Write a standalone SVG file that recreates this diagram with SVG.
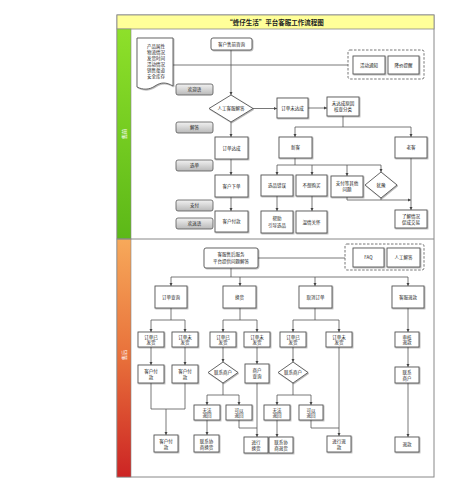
<svg xmlns="http://www.w3.org/2000/svg" width="456" height="500" viewBox="0 0 456 500">
<defs>
<linearGradient id="gGreen" x1="0" y1="0" x2="0" y2="1"><stop offset="0" stop-color="#8ee02a"/><stop offset="1" stop-color="#5cb818"/></linearGradient>
<linearGradient id="gRed" x1="0" y1="0" x2="0" y2="1"><stop offset="0" stop-color="#f7a95a"/><stop offset="0.5" stop-color="#e8703a"/><stop offset="1" stop-color="#cc2424"/></linearGradient>
<linearGradient id="gBtn" x1="0" y1="0" x2="0" y2="1"><stop offset="0" stop-color="#f2f2f2"/><stop offset="1" stop-color="#b8b8b8"/></linearGradient>
<marker id="ar" viewBox="0 0 6 6" refX="6" refY="3" markerWidth="4" markerHeight="4" orient="auto"><path d="M0,0 L6,3 L0,6 Z" fill="#444"/></marker>
<filter id="sh" x="-10%" y="-10%" width="130%" height="140%"><feDropShadow dx="0.8" dy="0.8" stdDeviation="0.4" flood-color="#000" flood-opacity="0.35"/></filter>
</defs>
<style>
.b{fill:#fff;stroke:#555;stroke-width:0.9;filter:url(#sh)}
.r{fill:#fff;stroke:#555;stroke-width:0.9;filter:url(#sh)}
.btn{fill:url(#gBtn);stroke:#555;stroke-width:0.8}
.dg{fill:none;stroke:#666;stroke-width:0.9;stroke-dasharray:2.5,1.5}
.t{font-family:"Noto Sans CJK SC","Noto Sans",sans-serif;font-size:4.5px;fill:#222;text-anchor:middle}
.c{fill:none;stroke:#555;stroke-width:0.8}
.a{marker-end:url(#ar)}
.lane{font-family:"Noto Sans CJK SC",sans-serif;font-size:5px;fill:#fff;text-anchor:middle}
</style>
<rect x="117" y="15" width="317" height="462" fill="#fff" stroke="#888" stroke-width="1"/>
<rect x="117" y="15" width="317" height="14" fill="#ffff99" stroke="#888" stroke-width="0.8"/>
<text x="275" y="25" font-family="Noto Sans CJK SC,sans-serif" font-size="6.5" font-weight="bold" fill="#222" text-anchor="middle">“蜂仔生活”平台客服工作流程图</text>
<g id="lane-pre"><rect x="117" y="29" width="14" height="210" fill="url(#gGreen)" stroke="#888" stroke-width="0.6"/><text class="lane" transform="translate(125.5,134) rotate(-90)">售前</text></g>
<g id="lane-post"><rect x="117" y="239" width="14" height="238" fill="url(#gRed)" stroke="#888" stroke-width="0.6"/><text class="lane" transform="translate(125.5,355) rotate(-90)">售后</text></g>
<line x1="117" y1="239" x2="434" y2="239" stroke="#888" stroke-width="1"/>

<g id="connectors">
<path class="c" d="M173,65 H348"/>
<path class="c a" d="M231,50 V95"/>
<path class="c a" d="M253,108.5 H277"/>
<path class="c a" d="M308,108 H327"/>
<path class="c" d="M343,116 V127 M295,127 H411"/>
<path class="c a" d="M295,127 V137"/>
<path class="c a" d="M411,127 V137"/>
<path class="c a" d="M231,122 V137"/>
<path class="c a" d="M231,159 V175"/>
<path class="c a" d="M231,197 V211"/>
<path class="c" d="M295,158 V165 M277,165 H381"/>
<path class="c a" d="M277,165 V175"/>
<path class="c a" d="M312,165 V175"/>
<path class="c a" d="M347,165 V176"/>
<path class="c a" d="M381,165 V172"/>
<path class="c a" d="M347,197 V200 H411"/>
<path class="c" d="M381,198 V200"/>
<path class="c a" d="M411,158 V210"/>
<path class="c a" d="M277,196 V211"/>
<path class="c a" d="M312,196 V211"/>

<path class="c" d="M258,258 H345"/>
<path class="c" d="M231,268 V277 M171,277 H408"/>
<path class="c a" d="M171,277 V286"/>
<path class="c a" d="M240,277 V286"/>
<path class="c a" d="M315,277 V286"/>
<path class="c a" d="M408,277 V286"/>

<path class="c" d="M171,308 V320 M151,320 H185"/>
<path class="c a" d="M151,320 V332"/>
<path class="c a" d="M185,320 V332"/>
<path class="c a" d="M151,347 V365"/>
<path class="c a" d="M185,347 V365"/>
<path class="c" d="M151,383 V409 H185 V383"/>
<path class="c a" d="M166,409 V435"/>

<path class="c" d="M240,308 V320 M223,320 H257"/>
<path class="c a" d="M223,320 V332"/>
<path class="c a" d="M257,320 V332"/>
<path class="c a" d="M223,347 V362"/>
<path class="c a" d="M257,347 V364"/>
<path class="c" d="M223,383 V395 M207,395 H239"/>
<path class="c a" d="M207,395 V405"/>
<path class="c a" d="M239,395 V405"/>
<path class="c a" d="M207,420 V435"/>
<path class="c" d="M239,420 V428 H257"/>
<path class="c a" d="M257,383 V437"/>

<path class="c" d="M315,308 V320 M293,320 H339"/>
<path class="c a" d="M293,320 V332"/>
<path class="c a" d="M339,320 V332"/>
<path class="c a" d="M293,347 V362"/>
<path class="c" d="M293,383 V395 M277,395 H311"/>
<path class="c a" d="M277,395 V405"/>
<path class="c a" d="M311,395 V405"/>
<path class="c a" d="M277,420 V437"/>
<path class="c" d="M311,420 V428 H339"/>
<path class="c a" d="M339,347 V436"/>

<path class="c a" d="M408,308 V332"/>
<path class="c a" d="M408,347 V367"/>
<path class="c a" d="M408,383 V437"/>
</g>

<g id="doc"><path d="M137,38 H173 V86 C166,82 161,82 155,86 C149,90 143,90 137,87 Z" fill="#fff" stroke="#555" stroke-width="0.9" filter="url(#sh)"/>
<text class="t" x="156" y="48">产品属性</text><text class="t" x="156" y="54">物流情况</text><text class="t" x="156" y="60">发货时间</text><text class="t" x="156" y="66">活动情况</text><text class="t" x="156" y="72">销售渠道</text><text class="t" x="156" y="78">安全库存</text></g>
<g id="pre-consult"><rect class="r" x="211" y="38" width="41" height="12" rx="2"/><text class="t" x="231.5" y="45.6">客户售前咨询</text></g>
<g id="notify-group"><rect class="dg" x="348" y="50" width="76" height="29" rx="2"/>
<rect class="b" x="353" y="56" width="32" height="18"/><text class="t" x="369" y="66.5">活动通知</text>
<rect class="b" x="388" y="56" width="31" height="18"/><text class="t" x="403.5" y="66.5">降价提醒</text></g>
<g id="btn1"><rect class="btn" x="176" y="84" width="37" height="11" rx="2"/><text class="t" x="194.5" y="91">欢迎语</text></g>
<g id="btn2"><rect class="btn" x="176" y="122" width="37" height="11" rx="2"/><text class="t" x="194.5" y="129">解答</text></g>
<g id="btn3"><rect class="btn" x="176" y="160" width="37" height="11" rx="2"/><text class="t" x="194.5" y="167">选单</text></g>
<g id="btn4"><rect class="btn" x="176" y="200" width="37" height="11" rx="2"/><text class="t" x="194.5" y="207">支付</text></g>
<g id="btn5"><rect class="btn" x="176" y="218" width="37" height="11" rx="2"/><text class="t" x="194.5" y="225">欢送语</text></g>
<g id="d-answer"><polygon class="b" points="231,95 253,108.5 231,122 209,108.5"/><text class="t" x="231" y="110.2">人工客服解答</text></g>
<g id="order-fail"><rect class="b" x="277" y="98" width="31" height="20"/><text class="t" x="292.5" y="109.6">订单未达成</text></g>
<g id="reason"><rect class="b" x="327" y="97" width="32" height="19"/><text class="t" x="343" y="105">未达成原因</text><text class="t" x="343" y="111">核查分类</text></g>
<g id="order-ok"><rect class="b" x="215" y="137" width="33" height="22"/><text class="t" x="231.5" y="149.6">订单达成</text></g>
<g id="place"><rect class="b" x="215" y="175" width="33" height="22"/><text class="t" x="231.5" y="187.6">客户下单</text></g>
<g id="pay1"><rect class="b" x="215" y="211" width="33" height="21"/><text class="t" x="231.5" y="223">客户付款</text></g>
<g id="new"><rect class="b" x="279" y="137" width="33" height="21"/><text class="t" x="295.5" y="149">新客</text></g>
<g id="old"><rect class="b" x="395" y="137" width="32" height="21"/><text class="t" x="411" y="149">老客</text></g>
<g id="wrong"><rect class="b" x="261" y="175" width="32" height="21"/><text class="t" x="277" y="187">选品错误</text></g>
<g id="nobuy"><rect class="b" x="296" y="175" width="31" height="21"/><text class="t" x="311.5" y="187">不想购买</text></g>
<g id="payissue"><rect class="b" x="331" y="176" width="32" height="21"/><text class="t" x="347" y="185">支付等其他</text><text class="t" x="347" y="191">问题</text></g>
<g id="d-hesitate"><polygon class="b" points="381,172 397,185 381,198 365,185"/><text class="t" x="381" y="186.6">犹豫</text></g>
<g id="help"><rect class="b" x="261" y="211" width="32" height="22"/><text class="t" x="277" y="220">帮助</text><text class="t" x="277" y="226.5">引导选品</text></g>
<g id="care"><rect class="b" x="296" y="211" width="31" height="22"/><text class="t" x="311.5" y="223.6">温情关怀</text></g>
<g id="deal"><rect class="b" x="395" y="210" width="32" height="18"/><text class="t" x="411" y="217.5">了解情况</text><text class="t" x="411" y="223.5">促成交易</text></g>

<g id="post-service"><rect class="r" x="204" y="248" width="54" height="20" rx="2"/><text class="t" x="231" y="256">客服售后服务</text><text class="t" x="231" y="262.5">平台提供问题解答</text></g>
<g id="faq-group"><rect class="dg" x="345" y="244" width="79" height="26" rx="2"/>
<rect class="b" x="353" y="248" width="31" height="19"/><text class="t" x="368.5" y="259">FAQ</text>
<rect class="b" x="387" y="248" width="33" height="19"/><text class="t" x="403.5" y="259">人工解答</text></g>
<g id="query"><rect class="b" x="155" y="286" width="32" height="22"/><text class="t" x="171" y="298.6">订单查询</text></g>
<g id="exchange"><rect class="b" x="223" y="286" width="33" height="22"/><text class="t" x="239.5" y="298.6">换货</text></g>
<g id="cancel"><rect class="b" x="299" y="286" width="33" height="22"/><text class="t" x="315.5" y="298.6">取消订单</text></g>
<g id="refund"><rect class="b" x="392" y="286" width="32" height="22"/><text class="t" x="408" y="298.6">客服退款</text></g>

<g id="q-shipped"><rect class="b" x="138" y="332" width="26" height="15"/><text class="t" x="151" y="338.5">订单已</text><text class="t" x="151" y="344">发货</text></g>
<g id="q-unshipped"><rect class="b" x="172" y="332" width="26" height="15"/><text class="t" x="185" y="338.5">订单未</text><text class="t" x="185" y="344">发货</text></g>
<g id="q-pay1"><rect class="b" x="138" y="365" width="26" height="18"/><text class="t" x="151" y="373">客户付</text><text class="t" x="151" y="379">款</text></g>
<g id="q-pay2"><rect class="b" x="172" y="365" width="26" height="18"/><text class="t" x="185" y="373">客户付</text><text class="t" x="185" y="379">款</text></g>
<g id="q-pay3"><rect class="b" x="154" y="435" width="24" height="17"/><text class="t" x="166" y="442.5">客户付</text><text class="t" x="166" y="448.5">款</text></g>

<g id="e-shipped"><rect class="b" x="210" y="332" width="26" height="15"/><text class="t" x="223" y="338.5">订单已</text><text class="t" x="223" y="344">发货</text></g>
<g id="e-unshipped"><rect class="b" x="244" y="332" width="26" height="15"/><text class="t" x="257" y="338.5">订单未</text><text class="t" x="257" y="344">发货</text></g>
<g id="e-contact"><polygon class="b" points="223,362 238,372.5 223,383 208,372.5"/><text class="t" x="223" y="374">联系商户</text></g>
<g id="e-merchant"><rect class="b" x="245" y="364" width="24" height="19"/><text class="t" x="257" y="372">商户</text><text class="t" x="257" y="378">查询</text></g>
<g id="e-no"><rect class="b" x="194" y="405" width="26" height="15"/><text class="t" x="207" y="411.5">无法</text><text class="t" x="207" y="417">退回</text></g>
<g id="e-yes"><rect class="b" x="226" y="405" width="26" height="15"/><text class="t" x="239" y="411.5">可以</text><text class="t" x="239" y="417">退回</text></g>
<g id="e-nego"><rect class="b" x="194" y="435" width="25" height="17"/><text class="t" x="206.5" y="442.5">联系协</text><text class="t" x="206.5" y="448.5">商换货</text></g>
<g id="e-do"><rect class="b" x="244" y="437" width="24" height="16"/><text class="t" x="256" y="444">进行</text><text class="t" x="256" y="450">换货</text></g>

<g id="c-shipped"><rect class="b" x="280" y="332" width="26" height="15"/><text class="t" x="293" y="338.5">订单已</text><text class="t" x="293" y="344">发货</text></g>
<g id="c-unshipped"><rect class="b" x="326" y="332" width="26" height="15"/><text class="t" x="339" y="338.5">订单未</text><text class="t" x="339" y="344">发货</text></g>
<g id="c-contact"><polygon class="b" points="293,362 308,372.5 293,383 278,372.5"/><text class="t" x="293" y="374">联系商户</text></g>
<g id="c-no"><rect class="b" x="264" y="405" width="26" height="15"/><text class="t" x="277" y="411.5">无法</text><text class="t" x="277" y="417">退回</text></g>
<g id="c-yes"><rect class="b" x="299" y="405" width="24" height="15"/><text class="t" x="311" y="411.5">可以</text><text class="t" x="311" y="417">退回</text></g>
<g id="c-nego"><rect class="b" x="269" y="437" width="24" height="16"/><text class="t" x="281" y="444">联系协</text><text class="t" x="281" y="450">商退货</text></g>
<g id="c-do"><rect class="b" x="327" y="436" width="24" height="16"/><text class="t" x="339" y="443">进行退</text><text class="t" x="339" y="449">款</text></g>

<g id="r-audit"><rect class="b" x="395" y="332" width="24" height="15"/><text class="t" x="407" y="338.5">审核</text><text class="t" x="407" y="344">退款</text></g>
<g id="r-contact"><rect class="b" x="395" y="367" width="24" height="16"/><text class="t" x="407" y="374">联系</text><text class="t" x="407" y="380">商户</text></g>
<g id="r-refund"><rect class="b" x="395" y="437" width="24" height="15"/><text class="t" x="407" y="446">退款</text></g>
</svg>
